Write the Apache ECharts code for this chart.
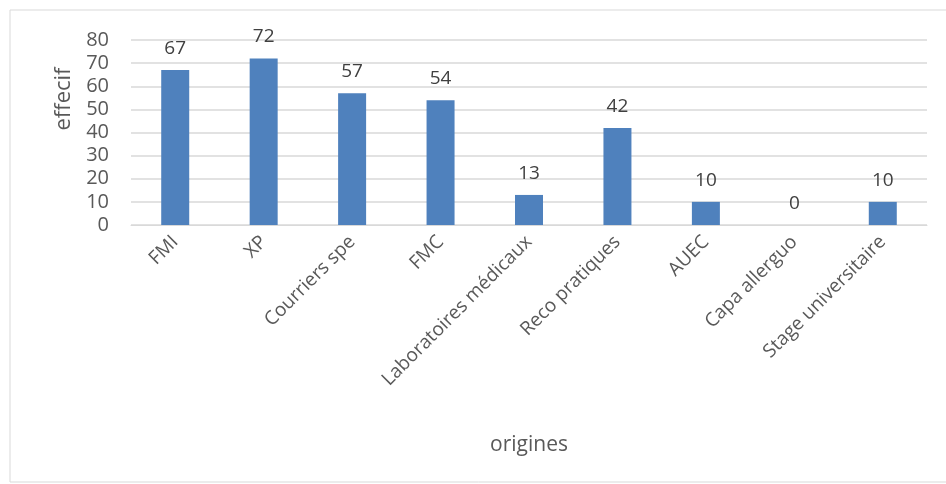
<!DOCTYPE html>
<html>
<head>
<meta charset="utf-8">
<script src="https://cdn.jsdelivr.net/npm/echarts@6/dist/echarts.min.js"></script>
<style>
  html, body { margin: 0; padding: 0; background: #fff; }
  #chart { width: 946px; height: 484px; }
</style>
</head>
<body>
<div id="chart"></div>
<script>
var categories = ['FMI', 'XP', 'Courriers spe', 'FMC', 'Laboratoires médicaux',
  'Reco pratiques', 'AUEC', 'Capa allerguo', 'Stage universitaire'];
var effectifs = [67, 72, 57, 54, 13, 42, 10, 0, 10];

var font = '"Open Sans", "Noto Sans", sans-serif';
var chart = echarts.init(document.getElementById('chart'));

chart.setOption({
  backgroundColor: '#fff',
  animation: false,
  graphic: [{
    type: 'rect',
    shape: { x: 10, y: 10, width: 950, height: 472 },
    style: { fill: 'none', stroke: '#d9d9d9', lineWidth: 1 }
  }, {
    type: 'text',
    x: 64, y: 99,
    rotation: Math.PI / 2,
    style: {
      text: 'effecif', font: '22px ' + font, fill: '#595959',
      align: 'center', verticalAlign: 'middle'
    }
  }],
  grid: { left: 131, right: 19, top: 40, bottom: 259 },
  xAxis: {
    type: 'category',
    data: categories,
    name: 'origines',
    nameLocation: 'middle',
    nameGap: 210,
    nameTextStyle: { fontFamily: font, fontSize: 21, color: '#595959' },
    axisLine: { lineStyle: { color: '#d9d9d9' } },
    axisTick: { show: false },
    axisLabel: {
      interval: 0, rotate: 45, margin: 14,
      fontFamily: font, fontSize: 19, color: '#595959'
    }
  },
  yAxis: {
    type: 'value',
    min: 0, max: 80, interval: 10,
    axisLine: { show: false },
    axisTick: { show: false },
    splitLine: { lineStyle: { color: '#d9d9d9', width: 1.5 } },
    axisLabel: { margin: 22, fontFamily: font, fontSize: 20, color: '#595959' }
  },
  series: [{
    type: 'bar',
    data: effectifs,
    barWidth: 28,
    itemStyle: { color: '#4f81bd' },
    label: {
      show: true, position: 'top', distance: 12,
      fontFamily: font, fontSize: 19, color: '#404040'
    }
  }]
});
</script>
</body>
</html>
